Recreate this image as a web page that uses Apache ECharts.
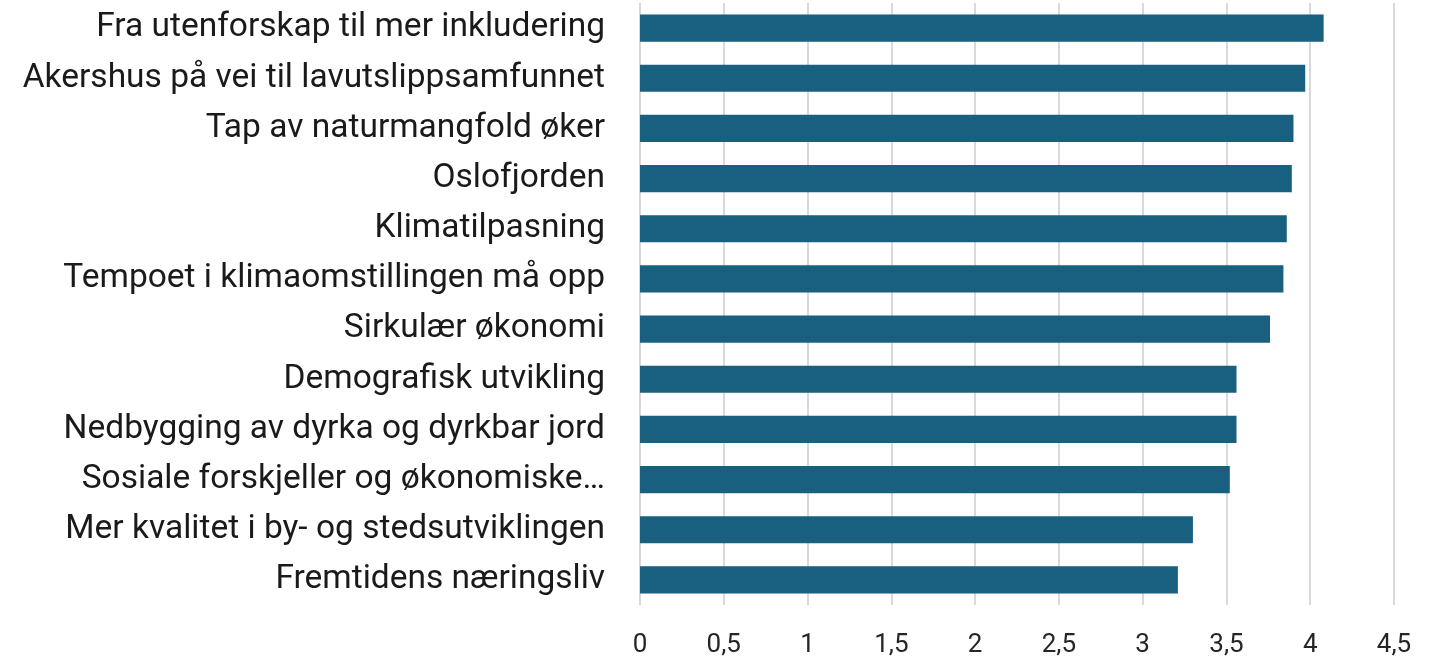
<!DOCTYPE html>
<html>
<head>
<meta charset="utf-8">
<script src="https://cdn.jsdelivr.net/npm/echarts@6/dist/echarts.min.js"></script>
<style>
html,body{margin:0;padding:0;background:#fff;}
#c{width:1436px;height:658px;}
</style>
</head>
<body>
<div id="c"></div>
<script>
const categories = [
  "Fra utenforskap til mer inkludering",
  "Akershus på vei til lavutslippsamfunnet",
  "Tap av naturmangfold øker",
  "Oslofjorden",
  "Klimatilpasning",
  "Tempoet i klimaomstillingen må opp",
  "Sirkulær økonomi",
  "Demografisk utvikling",
  "Nedbygging av dyrka og dyrkbar jord",
  "Sosiale forskjeller og økonomiske…",
  "Mer kvalitet i by- og stedsutviklingen",
  "Fremtidens næringsliv"
];
const values = [4.08, 3.97, 3.90, 3.89, 3.86, 3.84, 3.76, 3.56, 3.56, 3.52, 3.30, 3.21];
const xTicks = [0, 0.5, 1, 1.5, 2, 2.5, 3, 3.5, 4, 4.5];

const chart = echarts.init(document.getElementById('c'), null, {renderer: 'canvas'});
const fontFamily = 'Roboto, "Noto Sans", sans-serif';
chart.setOption({
  animation: false,
  backgroundColor: '#ffffff',
  grid: {left: 640, right: 42, top: 3, bottom: 51, containLabel: false},
  xAxis: {
    type: 'value',
    min: xTicks[0],
    max: xTicks[xTicks.length - 1],
    interval: 0.5,
    axisLine: {show: false},
    axisTick: {show: false},
    splitLine: {show: true, lineStyle: {color: '#d9d9d9', width: 2}},
    axisLabel: {
      margin: 27,
      fontSize: 26,
      color: '#262626',
      fontFamily: fontFamily,
      formatter: v => String(v).replace('.', ',')
    }
  },
  yAxis: {
    type: 'category',
    data: categories,
    inverse: true,
    axisLine: {show: false},
    axisTick: {show: false},
    splitLine: {show: false},
    axisLabel: {
      margin: 35,
      fontSize: 33.5,
      color: '#1a1a1a',
      fontFamily: fontFamily
    }
  },
  series: [{
    type: 'bar',
    data: values,
    barCategoryGap: '46%',
    itemStyle: {color: '#185f80'}
  }]
});
</script>
</body>
</html>
